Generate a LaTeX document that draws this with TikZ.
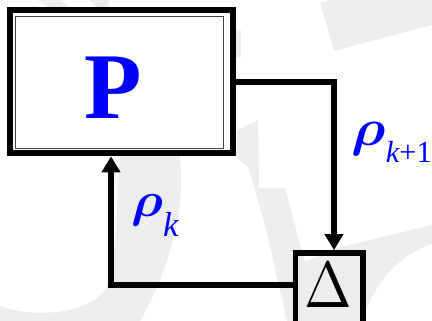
\documentclass[tikz,border=0pt]{standalone}
\usepackage{fontspec}
\setmainfont{Liberation Serif}
\usepackage{graphicx}
\usetikzlibrary{arrows.meta}

\tikzset{
  mark bg/.style={fill=black!7, draw=none},
  blockbox/.style={draw, line width=6pt, inner sep=0pt},
  wire/.style={draw, line width=5.5pt, line join=miter,
    -{Triangle[width=18pt,length=16pt]}},
  lbl/.style={text=blue, inner sep=0pt},
}
% enlarged heavy rho (scaled from 10pt so no font size substitution occurs)
\newcommand{\bigrho}[2]{\scalebox{#1}[#2]{\boldmath$\rho$}}

\begin{document}
\begin{tikzpicture}[x=1pt, y=-1pt]
  \useasboundingbox (0,0) rectangle (432,321);

  % faint background lettering
  \path[mark bg] (120,60) -- (180,60) -- (180,157)
    .. controls (185,200) and (175,260) .. (140,321)
    -- (0,321) -- (0,306)
    .. controls (40,320) and (95,312) .. (108,285)
    .. controls (117,250) and (117,200) .. (120,157) -- cycle;
  \path[mark bg] (38,0) -- (62,0) -- (68,8) -- (48,8) -- cycle;
  \path[mark bg] (90,0) -- (108,0) -- (110,8) -- (97,8) -- cycle;
  \path[mark bg] (234,30) -- (241,30) -- (241,57) -- (234,57) -- cycle;
  \path[mark bg] (320,3) -- (334,51) -- (432,25) -- (432,0) -- (331,0) -- cycle;
  \path[mark bg] (237,130) -- (258,120) -- (259,188) -- (285,188) -- (305,262)
    -- (333,249) -- (432,225) -- (432,244)
    .. controls (400,255) and (375,280) .. (362,321)
    -- (287,321) -- (267,233) -- (249,168) -- (237,158) -- cycle;

  % plant block
  \node[blockbox, fill=white, minimum width=222.4pt, minimum height=143pt]
    (P) at (121.5,81.8) {};
  \node[draw=black!75, line width=0.9pt, inner sep=0pt,
    minimum width=208pt, minimum height=132.5pt] (Pin) at (119.5,82.25) {};
  \node[anchor=base, inner sep=0pt, text=blue,
    font=\fontsize{94}{94}\selectfont\bfseries] (Pt) at (113,119) {P};

  % delay block
  \node[blockbox, line width=5.8pt, minimum width=67.8pt, minimum height=73pt]
    (D) at (329.4,289.5) {};
  \node[anchor=base, inner sep=0pt] (Dt) at (328.5,307.7)
    {\scalebox{5.7}[6.5]{$\Delta$}};

  % feedback loop
  \draw[wire] (P.east) -| ([xshift=4.6pt]D.north);
  \draw[wire] ([yshift=4.5pt]D.west) -| ([xshift=-10.5pt]P.south);

  % signal labels
  \node[lbl, anchor=base west] (rk1) at (351,145.5)
    {\bigrho{5.6}{5.2}\kern0.5pt\raisebox{-17.2pt}{\fontsize{30.5}{31}\selectfont\itshape k\upshape+1}};
  \node[lbl, anchor=base west] (rk) at (131,216.2)
    {\bigrho{5.2}{4.9}\kern0pt\raisebox{-20.5pt}{\fontsize{34.7}{35}\selectfont\itshape k}};
\end{tikzpicture}
\end{document}
